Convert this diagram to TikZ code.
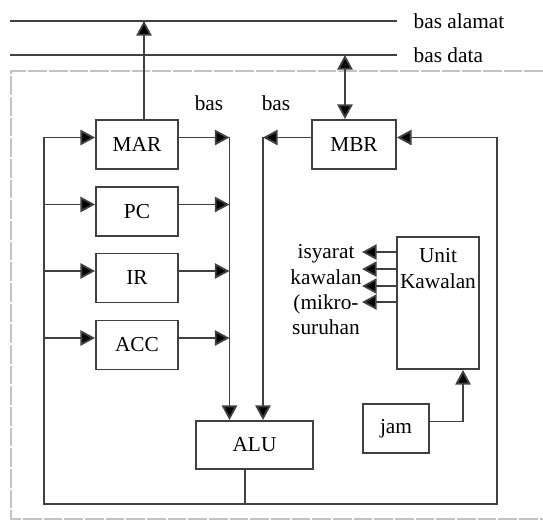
\documentclass[tikz,border=0pt]{standalone}
\usepackage{fontspec}
\setmainfont{Liberation Serif}
\usetikzlibrary{positioning, arrows.meta, calc}
\definecolor{wire}{HTML}{404040}
\definecolor{rule}{HTML}{c4c4c4}

\begin{document}
\begin{tikzpicture}[x=0.75pt, y=-0.75pt, font=\fontsize{16}{19}\selectfont,
    reg/.style={draw=wire, line width=1.4pt, minimum width=61.5pt,
                minimum height=36.75pt, inner sep=0pt},
    wireln/.style={wire, line width=1.4pt},
    arr/.style={wireln, -{Triangle[length=11pt, width=11.5pt, fill=black]}},
    dbl/.style={wireln, {Triangle[length=11pt, width=11.5pt, fill=black]}-{Triangle[length=11pt, width=11.5pt, fill=black]}}]
  \useasboundingbox (0,0) rectangle (543,520);

  % Page frame
  \draw[rule, line width=1pt, dash pattern=on 14pt off 1.5pt] (543,71) -- (11,71) -- (11,519) -- (543,519);

  % System buses
  \coordinate (alamatL) at (10,21);
  \coordinate (dataL) at (10,55);
  \draw[wireln] (alamatL) -- (397,21);
  \draw[wireln] (dataL) -- (397,55);
  \node[anchor=west] (tAlamat) at (409,21) {bas alamat};
  \node[anchor=west] (tData) at (409,55) {bas data};

  % Registers
  \foreach \n/\y in {MAR/144.5, PC/211.5, IR/278, ACC/345} {
    \node[reg] (\n) at (137,\y) {\n};
  }
  \node[reg, minimum width=63pt] (MBR) at (354,144.5) {MBR};
  \node[reg, minimum height=36pt, minimum width=87.75pt] (ALU) at (254.5,445) {ALU};
  \node[reg, minimum width=49.5pt] (jam) at (396,428.5) {jam};
  \node[reg, minimum height=99pt,
        label={[anchor=north, align=center, inner sep=0pt, yshift=-9pt,
                font=\fontsize{16}{19.5}\selectfont]north:Unit\\Kawalan}] (CU) at (438,303) {};

  % Labels
  \node (tBas1) at (209,103) {bas};
  \node (tBas2) at (276,103) {bas};
  \node[align=center] (tIsyarat) at (326,290) {isyarat\\kawalan\\(mikro-\\suruhan};

  % Internal buses
  \coordinate (busL) at ($(ALU.north)+(-25,0)$);
  \coordinate (busR) at ($(ALU.north)+(8.5,0)$);
  \coordinate (loopBL) at (44,504);
  \coordinate (loopBR) at (497,504);

  \foreach \n in {MAR, PC, IR, ACC} {
    \coordinate (w\n) at ($(\n.west)+(0,-7)$);
    \coordinate (e\n) at ($(\n.east)+(0,-7)$);
    \draw[arr] (loopBL |- w\n) -- (w\n);
    \draw[arr] (e\n) -- (e\n -| busL);
  }
  \draw[arr] (busL |- eMAR) -- (busL);

  \coordinate (wMBR) at ($(MBR.west)+(0,-7)$);
  \coordinate (eMBR) at ($(MBR.east)+(0,-7)$);
  \draw[arr] (wMBR) -- (wMBR -| busR);
  \draw[arr] (wMBR -| busR) -- (busR);

  % To the system buses
  \coordinate (marUp) at ($(MAR.north)+(7,0)$);
  \draw[arr] (marUp) -- (marUp |- alamatL);
  \coordinate (mbrUp) at ($(MBR.north)+(-9,0)$);
  \draw[dbl] (mbrUp |- dataL) -- (mbrUp);

  % ALU result loop
  \coordinate (aluOut) at ($(ALU.south)+(-9.5,0)$);
  \draw[wireln] (aluOut) -- (aluOut |- loopBL);
  \draw[wireln] (wMAR -| loopBL) -- (loopBL) -- (loopBR) -- (eMBR -| loopBR);
  \draw[arr] (eMBR -| loopBR) -- (eMBR);

  % Control signals
  \foreach \d in {16, 33, 50, 66} {
    \draw[arr] ($(CU.north west)+(0,\d)$) -- ++(-34,0);
  }
  \draw[arr] ($(jam.east)+(0,-7)$) -| ($(CU.south)+(25,0)$);
\end{tikzpicture}
\end{document}
